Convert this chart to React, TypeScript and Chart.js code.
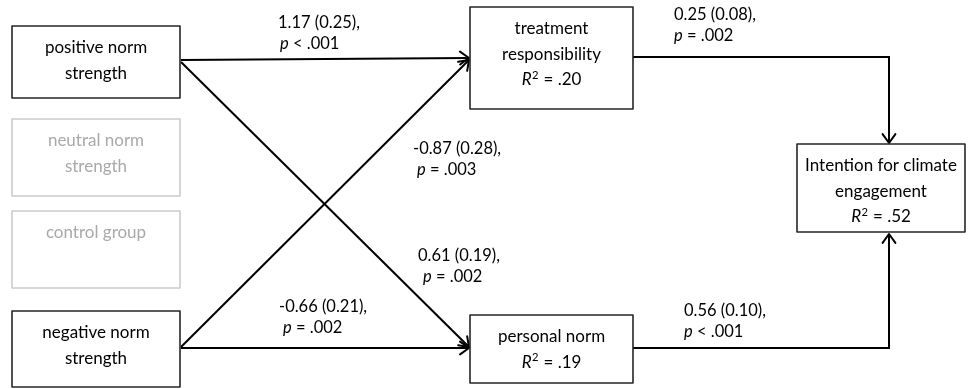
import React, { useEffect, useRef } from "react";
import { Chart, registerables } from "chart.js";

Chart.register(...registerables);

// ---------- DATA ----------
// Path model nodes
const nodeLabels: string[][] = [
  ["positive norm", "strength"],
  ["neutral norm", "strength"],
  ["control group"],
  ["negative norm", "strength"],
  ["treatment", "responsibility", "*R*^2^ = .20"],
  ["personal norm", "*R*^2^ = .19"],
  ["Intention for climate", "engagement", "*R*^2^ = .52"],
];
const nodeActive = [true, false, false, true, true, true, true];

// Path coefficients (estimate (SE)) and p values
const coefficients = ["1.17 (0.25),", "-0.87 (0.28),", "0.25 (0.08),", "0.61 (0.19),", "-0.66 (0.21),", "0.56 (0.10),"];
const pValues = ["*p* < .001", "*p* = .003", "*p* = .002", "*p* = .002", "*p* = .002", "*p* < .001"];

// ---------- LAYOUT (diagram coordinates, axis units) ----------
const W = 971;
const H = 389;
const nodeLeft = [12, 12, 12, 12, 470, 470, 797];
const nodeRight = [180, 180, 180, 180, 633, 633, 965];
const nodeTop = [26, 119, 211, 311, 7, 315, 144];
const nodeBottom = [98, 196, 288, 387, 109, 383, 232];

const edgeX = [
  [181, 469],
  [181, 469],
  [181, 469],
  [181, 469],
  [633, 889, 889],
  [633, 889, 889],
];
const edgeY = [
  [60, 58],
  [62, 347],
  [347, 60],
  [348, 348],
  [57, 57, 143],
  [348, 348, 234],
];

const labelX = [278, 413, 674, 418, 279, 684];
const labelY = [23, 149, 15, 256, 307, 311];
const pIndent = [2, 4, 0, 5, 4, 0];

const FONT = "Lato, 'Open Sans', sans-serif";
const BOX_FONT_SIZE = 17;
const LABEL_FONT_SIZE = 16.5;

type Seg = { t: string; i: boolean; s: boolean };
function segments(line: string): Seg[] {
  const parts = line.split(/(\*[^*]+\*|\^[^^]+\^)/).filter((p) => p.length > 0);
  return parts.map((p) => {
    if (p.startsWith("*") && p.endsWith("*")) return { t: p.slice(1, -1), i: true, s: false };
    if (p.startsWith("^") && p.endsWith("^")) return { t: p.slice(1, -1), i: false, s: true };
    return { t: p, i: false, s: false };
  });
}

function fontFor(seg: Seg, size: number) {
  const sz = seg.s ? size * 0.66 : size;
  return `${seg.i ? "italic " : ""}${sz}px ${FONT}`;
}

function drawRich(ctx: CanvasRenderingContext2D, line: string, x: number, y: number, size: number, color: string, align: "left" | "center") {
  const segs = segments(line);
  const widths = segs.map((sg) => {
    ctx.font = fontFor(sg, size);
    return ctx.measureText(sg.t).width + (sg.s ? 1 : 0);
  });
  const total = widths.reduce((a, b) => a + b, 0);
  let cx = align === "center" ? x - total / 2 : x;
  ctx.fillStyle = color;
  ctx.textBaseline = "middle";
  ctx.textAlign = "left";
  segs.forEach((sg, k) => {
    ctx.font = fontFor(sg, size);
    ctx.fillText(sg.t, cx + (sg.s ? 0.5 : 0), sg.s ? y - size * 0.28 : y);
    cx += widths[k];
  });
}

const diagramPlugin = {
  id: "pathDiagram",
  afterDatasetsDraw(chart: any) {
    const ctx: CanvasRenderingContext2D = chart.ctx;
    const xs = chart.scales.x;
    const ys = chart.scales.y;
    ctx.save();

    // arrowheads at the end of each path
    chart.data.datasets.forEach((_: any, di: number) => {
      const pts = chart.getDatasetMeta(di).data;
      const a = pts[pts.length - 2];
      const b = pts[pts.length - 1];
      const ang = Math.atan2(b.y - a.y, b.x - a.x);
      const len = 11;
      const spread = 0.62;
      ctx.strokeStyle = "#000";
      ctx.lineWidth = 2;
      ctx.lineCap = "round";
      ctx.lineJoin = "round";
      ctx.beginPath();
      ctx.moveTo(b.x - len * Math.cos(ang - spread), b.y - len * Math.sin(ang - spread));
      ctx.lineTo(b.x, b.y);
      ctx.lineTo(b.x - len * Math.cos(ang + spread), b.y - len * Math.sin(ang + spread));
      ctx.stroke();
    });

    // boxes and their texts
    nodeLabels.forEach((lines, i) => {
      const l = xs.getPixelForValue(nodeLeft[i]);
      const r = xs.getPixelForValue(nodeRight[i]);
      const t = ys.getPixelForValue(nodeTop[i]);
      const bt = ys.getPixelForValue(nodeBottom[i]);
      ctx.lineWidth = 1.6;
      ctx.strokeStyle = nodeActive[i] ? "#262626" : "#cbcbcb";
      ctx.strokeRect(l, t, r - l, bt - t);
      const cx = (l + r) / 2;
      lines.forEach((line, k) => {
        drawRich(ctx, line, cx, t + 22 + k * 25.5, BOX_FONT_SIZE, nodeActive[i] ? "#000" : "#a9a9a9", "center");
      });
    });

    // coefficient labels
    coefficients.forEach((c, i) => {
      const x = xs.getPixelForValue(labelX[i]);
      const y = ys.getPixelForValue(labelY[i]);
      drawRich(ctx, c, x, y, LABEL_FONT_SIZE, "#000", "left");
      drawRich(ctx, pValues[i], x + pIndent[i], y + 20.5, LABEL_FONT_SIZE, "#000", "left");
    });

    ctx.restore();
  },
};

export default function App() {
  const ref = useRef<HTMLCanvasElement | null>(null);
  useEffect(() => {
    document.body.style.margin = "0";
    if (!ref.current) return;
    const chart = new Chart(ref.current, {
      type: "scatter",
      data: {
        datasets: edgeX.map((xsArr, i) => ({
          label: `path ${i + 1}`,
          data: xsArr.map((x, k) => ({ x, y: edgeY[i][k] })),
          showLine: true,
          borderColor: "#000",
          backgroundColor: "#000",
          borderWidth: 2,
          pointRadius: 0,
          pointHoverRadius: 0,
          tension: 0,
          fill: false,
          clip: false as any,
        })),
      },
      options: {
        responsive: false,
        maintainAspectRatio: false,
        animation: false,
        events: [],
        layout: { padding: 0 },
        plugins: { legend: { display: false }, tooltip: { enabled: false }, title: { display: false } },
        scales: {
          x: { type: "linear", min: 0, max: W, display: false },
          y: { type: "linear", min: 0, max: H, reverse: true, display: false },
        },
      },
      plugins: [diagramPlugin],
    });
    return () => chart.destroy();
  }, []);
  return (
    <div style={{ width: W, height: H, background: "#fff" }}>
      <canvas ref={ref} width={W} height={H} style={{ display: "block" }} />
    </div>
  );
}
